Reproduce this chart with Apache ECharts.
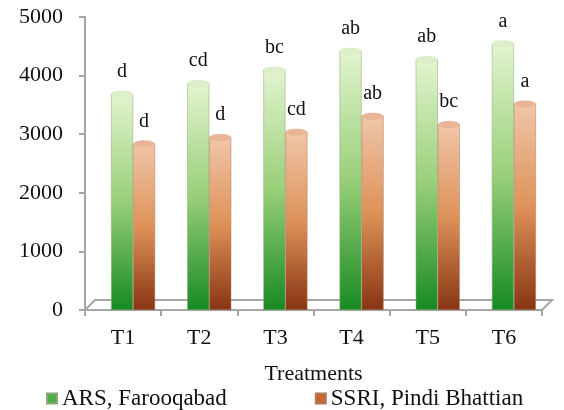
<!DOCTYPE html>
<html>
<head>
<meta charset="utf-8">
<script src="https://cdn.jsdelivr.net/npm/echarts@6/dist/echarts.min.js"></script>
<style>
  html, body { margin: 0; padding: 0; background: #fff; }
  #main { width: 564px; height: 410px; }
</style>
</head>
<body>
<div id="main"></div>
<script>
// data
let treatments = ['T1', 'T2', 'T3', 'T4', 'T5', 'T6'];
let arsValues = [3690, 3870, 4100, 4420, 4280, 4550];
let ssriValues = [2840, 2950, 3040, 3310, 3170, 3520];
let arsLetters = ['d', 'cd', 'bc', 'ab', 'ab', 'a'];
let ssriLetters = ['d', 'd', 'cd', 'ab', 'bc', 'a'];
let yTicks = [0, 1000, 2000, 3000, 4000, 5000];

let serif = 'Liberation Serif';
let depth = 10; // 3d floor depth in px

let greenFill = new echarts.graphic.LinearGradient(0, 0, 0, 1, [
    { offset: 0, color: '#e3f4cf' },
    { offset: 0.5, color: '#98cf78' },
    { offset: 1, color: '#178a22' }
]);
let orangeFill = new echarts.graphic.LinearGradient(0, 0, 0, 1, [
    { offset: 0, color: '#f0c6a9' },
    { offset: 0.5, color: '#de9258' },
    { offset: 1, color: '#873512' }
]);

function letterLabel(letters) {
    return {
        show: true,
        position: 'top',
        distance: 12,
        fontFamily: serif,
        fontSize: 20,
        color: '#111',
        formatter: function (p) { return letters[p.dataIndex]; }
    };
}

let myChart = echarts.init(document.getElementById('main'));
let option = {
    backgroundColor: '#ffffff',
    animation: false,
    textStyle: { fontFamily: serif, color: '#111' },
    grid: { left: 85, right: 22, top: 17, bottom: 100 },
    legend: {
        top: 382,
        left: 41,
        icon: 'rect',
        itemWidth: 10,
        itemHeight: 10,
        itemGap: 88,
        textStyle: { fontFamily: serif, fontSize: 23, color: '#111' },
        data: [
            { name: 'ARS, Farooqabad', itemStyle: { color: '#4fae45' } },
            { name: 'SSRI, Pindi Bhattian', itemStyle: { color: '#c8662e' } }
        ]
    },
    xAxis: {
        type: 'category',
        data: treatments,
        name: 'Treatments',
        nameLocation: 'middle',
        nameGap: 53,
        nameTextStyle: { fontFamily: serif, fontSize: 22, color: '#111' },
        axisLine: { lineStyle: { color: '#a6a6a6', width: 2 } },
        axisTick: { show: true, length: 6, lineStyle: { color: '#a6a6a6', width: 2 } },
        axisLabel: { fontFamily: serif, fontSize: 22, color: '#111', margin: 17 }
    },
    yAxis: {
        type: 'value',
        min: yTicks[0],
        max: yTicks[yTicks.length - 1],
        interval: 1000,
        splitLine: { show: false },
        axisLine: { show: true, lineStyle: { color: '#a6a6a6', width: 2 } },
        axisTick: { show: true, length: 6, lineStyle: { color: '#a6a6a6', width: 2 } },
        axisLabel: {
            fontFamily: serif, fontSize: 22, color: '#111', margin: 22,
            formatter: function (v) { return String(v); }
        }
    },
    series: [
        // empty spacer so the bar pair sits a little right of the tick centre, as in the 3d original
        {
            name: 'spacer',
            type: 'bar',
            data: treatments.map(function () { return '-'; }),
            barWidth: 20,
            barGap: '0%',
            silent: true
        },
        {
            name: 'ARS, Farooqabad',
            type: 'bar',
            data: arsValues,
            barWidth: 22,
            barGap: '0%',
            itemStyle: { color: greenFill, borderColor: '#8aa87c', borderWidth: 0.5 },
            label: letterLabel(arsLetters),
            z: 2
        },
        {
            name: 'SSRI, Pindi Bhattian',
            type: 'bar',
            data: ssriValues,
            barWidth: 22,
            barGap: '0%',
            itemStyle: { color: orangeFill, borderColor: '#a87c64', borderWidth: 0.5 },
            label: letterLabel(ssriLetters),
            z: 2
        },
        // cylinder caps
        {
            name: 'ARS cap',
            type: 'pictorialBar',
            data: arsValues,
            barWidth: 22,
            barGap: '0%',
            symbol: 'circle',
            symbolSize: [22, 7],
            symbolPosition: 'end',
            symbolOffset: [10, '-50%'],
            itemStyle: { color: '#dcefc8', borderColor: '#8f9f86', borderWidth: 1 },
            z: 3,
            silent: true
        },
        {
            name: 'SSRI cap',
            type: 'pictorialBar',
            data: ssriValues,
            barWidth: 22,
            barGap: '0%',
            symbol: 'circle',
            symbolSize: [22, 7],
            symbolPosition: 'end',
            symbolOffset: [10, '-50%'],
            itemStyle: { color: '#e9b596', borderColor: '#a07c68', borderWidth: 1 },
            z: 3,
            silent: true
        }
    ]
};
myChart.setOption(option);

// 3d floor outline behind the bars
let rect = myChart.getModel().getComponent('grid').coordinateSystem.getRect();
let x0 = rect.x, x1 = rect.x + rect.width, yb = rect.y + rect.height;
myChart.setOption({
    graphic: [{
        type: 'polyline',
        z: 1,
        silent: true,
        shape: { points: [[x0, yb], [x0 + depth, yb - depth], [x1 + depth, yb - depth], [x1, yb]] },
        style: { stroke: '#a6a6a6', lineWidth: 2, fill: null }
    }]
});

window.addEventListener('resize', function () {
    myChart.resize();
});
</script>
</body>
</html>
